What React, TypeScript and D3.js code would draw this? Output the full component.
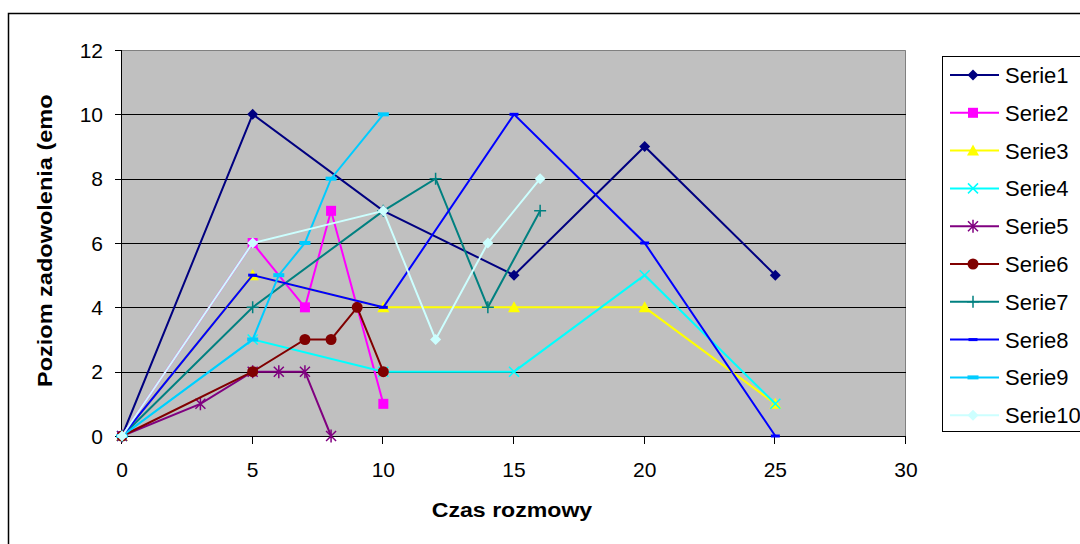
import React from 'react';
import * as d3 from 'd3';

const seriesNames = ['Serie1', 'Serie2', 'Serie3', 'Serie4', 'Serie5', 'Serie6', 'Serie7', 'Serie8', 'Serie9', 'Serie10'];
const seriesColors = ['#000080', '#FF00FF', '#FFFF00', '#00FFFF', '#800080', '#800000', '#008080', '#0000FF', '#00CCFF', '#CCFFFF'];
const seriesMarkers = ['diamond', 'square', 'triangle', 'x', 'star', 'circle', 'plus', 'dash', 'bar', 'diamond'];

// [czas, poziom]
const serie1 = [[0, 0], [5, 10], [10, 7], [15, 5], [20, 9], [25, 5]];
const serie2 = [[0, 0], [5, 6], [7, 4], [8, 7], [10, 1]];
const serie3 = [[0, 0], [5, 5], [10, 4], [15, 4], [20, 4], [25, 1]];
const serie4 = [[0, 0], [5, 3], [10, 2], [15, 2], [20, 5], [25, 1]];
const serie5 = [[0, 0], [3, 1], [5, 2], [6, 2], [7, 2], [8, 0]];
const serie6 = [[0, 0], [5, 2], [7, 3], [8, 3], [9, 4], [10, 2]];
const serie7 = [[0, 0], [5, 4], [10, 7], [12, 8], [14, 4], [16, 7]];
const serie8 = [[0, 0], [5, 5], [10, 4], [15, 10], [20, 6], [25, 0]];
const serie9 = [[0, 0], [5, 3], [6, 5], [7, 6], [8, 8], [10, 10]];
const serie10 = [[0, 0], [5, 6], [10, 7], [12, 3], [14, 6], [16, 8]];
const allSeries = [serie1, serie2, serie3, serie4, serie5, serie6, serie7, serie8, serie9, serie10];

const xTicks = [0, 5, 10, 15, 20, 25, 30];
const yTicks = [0, 2, 4, 6, 8, 10, 12];

const xTitle = 'Czas rozmowy';
const yTitle = 'Poziom zadowolenia (emo';

const font = 'Arial, "Liberation Sans", sans-serif';

const Marker = ({ type, color, x, y }: { type: string; color: string; x: number; y: number }) => {
  const t = `translate(${x},${y})`;
  switch (type) {
    case 'diamond':
      return <path transform={t} d="M0,-5.5L5.5,0L0,5.5L-5.5,0Z" fill={color} />;
    case 'square':
      return <rect transform={t} x={-5} y={-5} width={10} height={10} fill={color} />;
    case 'triangle':
      return <path transform={t} d="M0,-6L6,5L-6,5Z" fill={color} />;
    case 'x':
      return <path transform={t} d="M-5,-5L5,5M-5,5L5,-5" stroke={color} strokeWidth={1.5} />;
    case 'star':
      return <path transform={t} d="M-5,-5L5,5M-5,5L5,-5M0,-6.5L0,6.5" stroke={color} strokeWidth={1.5} />;
    case 'circle':
      return <circle transform={t} r={5.5} fill={color} />;
    case 'plus':
      return <path transform={t} d="M-6,0L6,0M0,-6L0,6" stroke={color} strokeWidth={1.5} />;
    case 'dash':
      return <rect transform={t} x={-4.5} y={-1.5} width={9} height={3} fill={color} />;
    case 'bar':
      return <rect transform={t} x={-5.5} y={-2} width={11} height={4} fill={color} />;
    default:
      return null;
  }
};

export default function App() {
  const left = 122;
  const right = 906;
  const top = 50;
  const bottom = 436;

  const x = d3.scaleLinear().domain([0, 30]).range([left, right]);
  const y = d3.scaleLinear().domain([0, 12]).range([bottom, top]);

  const line = d3.line<number[]>()
    .x(d => x(d[0]))
    .y(d => y(d[1]));

  return (
    <div style={{ position: 'fixed', left: 0, top: 0 }}>
      <svg width={1080} height={544} style={{ display: 'block', background: '#fff' }}>
        {/* ramka wykresu */}
        <rect x={8.5} y={13.5} width={1200} height={700} fill="#fff" stroke="#000" strokeWidth={1.5} />

        {/* obszar kreślenia */}
        <rect x={left} y={top} width={right - left} height={bottom - top} fill="#C0C0C0" />
        <path d={`M${left},${top + 0.5}H${right - 0.5}V${bottom}`} fill="none" stroke="#808080" strokeWidth={1} />

        {yTicks.filter(v => v > 0 && v < 12).map(v => (
          <line key={v} x1={left} x2={right} y1={Math.round(y(v)) + 0.5} y2={Math.round(y(v)) + 0.5} stroke="#000" strokeWidth={1} />
        ))}

        {/* osie */}
        <line x1={left - 0.5} x2={left - 0.5} y1={top} y2={bottom} stroke="#000" />
        <line x1={left} x2={right} y1={bottom + 0.5} y2={bottom + 0.5} stroke="#000" />
        {yTicks.map(v => (
          <g key={v}>
            <line x1={left - 7} x2={left} y1={Math.round(y(v)) + 0.5} y2={Math.round(y(v)) + 0.5} stroke="#000" />
            <text x={103} y={y(v)} dy="0.36em" textAnchor="end" fontFamily={font} fontSize={21}>{v}</text>
          </g>
        ))}
        {xTicks.map(v => (
          <g key={v}>
            <line x1={Math.round(x(v)) - 0.5} x2={Math.round(x(v)) - 0.5} y1={bottom} y2={bottom + 8} stroke="#000" />
            <text x={x(v)} y={477} textAnchor="middle" fontFamily={font} fontSize={21}>{v}</text>
          </g>
        ))}

        {/* serie */}
        {allSeries.map((s, i) => (
          <g key={seriesNames[i]}>
            <path d={line(s) || ''} fill="none" stroke={seriesColors[i]} strokeWidth={2} />
            {s.map((d, j) => (
              <Marker key={j} type={seriesMarkers[i]} color={seriesColors[i]} x={x(d[0])} y={y(d[1])} />
            ))}
          </g>
        ))}

        {/* tytuły osi */}
        <text transform={`translate(${(left + right) / 2 - 2},517) scale(1.1,1)`} textAnchor="middle" fontFamily={font} fontWeight="bold" fontSize={21}>{xTitle}</text>
        <text transform="translate(52,387) rotate(-90) scale(1.12,1)" textAnchor="start" fontFamily={font} fontWeight="bold" fontSize={21}>{yTitle}</text>

        {/* legenda */}
        <rect x={942.5} y={56.5} width={200} height={375} fill="#fff" stroke="#000" strokeWidth={1} />
        {seriesNames.map((name, i) => {
          const cy = 75 + i * 37.8;
          return (
            <g key={name}>
              <line x1={950} x2={999} y1={cy} y2={cy} stroke={seriesColors[i]} strokeWidth={2} />
              <Marker type={seriesMarkers[i]} color={seriesColors[i]} x={973} y={cy} />
              <text x={1005} y={cy} dy="0.36em" fontFamily={font} fontSize={22}>{name}</text>
            </g>
          );
        })}
      </svg>
    </div>
  );
}
